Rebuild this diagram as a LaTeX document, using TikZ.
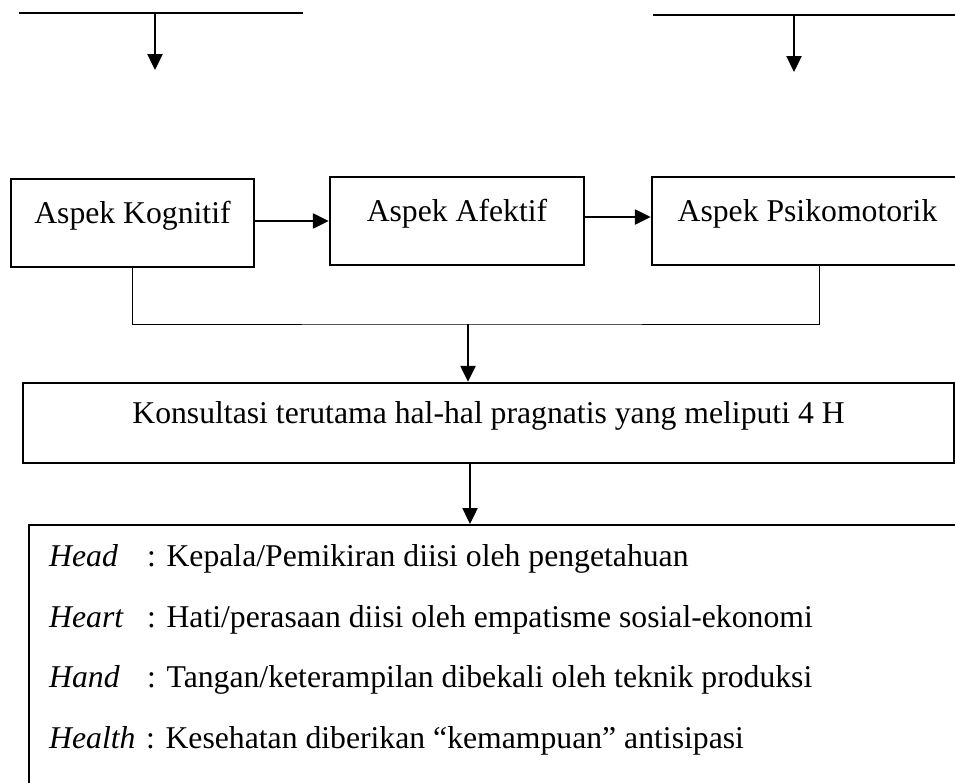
\documentclass[tikz,border=0pt]{standalone}
\usepackage{fontspec}
\setmainfont{Liberation Serif}
\usetikzlibrary{arrows.meta,positioning}

\begin{document}
\begin{tikzpicture}[
		x=1pt, y=-1pt,
		every node/.style={font=\fontsize{31.7}{38}\selectfont},
		arrow/.style={line width=2.4pt, -{Triangle[width=15pt,length=16pt]}},
		block/.style={draw, line width=2.4pt, minimum height=88pt, text height=20pt, text depth=20pt, inner sep=0pt},
		bigblock/.style={draw, line width=2.4pt, anchor=north west, minimum width=960pt, minimum height=300pt},
		term/.style={anchor=base west, inner sep=0pt, font=\fontsize{31.7}{38}\selectfont\itshape},
		desc/.style={anchor=base west, inner sep=0pt},
		joinline/.style={line width=1pt},
		topline/.style={line width=2pt},
	]
		\useasboundingbox (0,0) rectangle (955,782);
		\clip (0,0) rectangle (955,782);

		% incoming lines at the top
		\coordinate (inleftA) at (19,13);
		\coordinate (inleftB) at (303,13);
		\coordinate (inleftmid) at (155,13);
		\coordinate (inleftend) at (155,70);
		\coordinate (inrightA) at (653,15);
		\coordinate (inrightB) at (960,15);
		\coordinate (inrightmid) at (794,15);
		\coordinate (inrightend) at (794,72);
		\draw[topline] (inleftA) -- (inleftB);
		\draw[arrow] (inleftmid) -- (inleftend);
		\draw[topline] (inrightA) -- (inrightB);
		\draw[arrow] (inrightmid) -- (inrightend);

		% three aspects
		\node[block, minimum width=243pt] (kognitif) at (132.5,223) {Aspek Kognitif};
		\node[block, minimum width=254pt] (afektif) at (457,221) {Aspek Afektif};
		\node[block, minimum width=311pt] (psikomotorik) at (807.5,221) {Aspek Psikomotorik};

		\draw[arrow] (kognitif.east |- 0,221) -- (afektif.west |- 0,221);
		\draw[arrow] (afektif.east |- 0,217) -- (psikomotorik.west |- 0,217);

		% consultation
		\node[block, minimum width=931pt, minimum height=80pt] (konsultasi) at (488.5,423) {Konsultasi terutama hal-hal pragnatis yang meliputi 4 H};

		\coordinate (join) at (468,324);
		\draw[joinline] (kognitif.south) |- (join) -| ([xshift=11.5pt]psikomotorik.south);
		\draw[arrow] (join) -- (join |- konsultasi.north);

		% 4 H
		\node[bigblock] (fourh) at (28,524) {};
		\draw[arrow] ([xshift=-18.5pt]konsultasi.south) -- ([xshift=-18.5pt]konsultasi.south |- fourh.north);

		\node[term] (head) at (49,566) {Head};
		\node[desc] (headtxt) at (147,566) {: Kepala/Pemikiran diisi oleh pengetahuan};
		\node[term] (heart) at (49,627) {Heart};
		\node[desc] (hearttxt) at (147,627) {: Hati/perasaan diisi oleh empatisme sosial-ekonomi};
		\node[term] (hand) at (49,687) {Hand};
		\node[desc] (handtxt) at (147,687) {: Tangan/keterampilan dibekali oleh teknik produksi};
		\node[term] (health) at (49,748) {Health};
		\node[desc] (healthtxt) at (146,748) {: Kesehatan diberikan “kemampuan” antisipasi};
	\end{tikzpicture}
\end{document}
